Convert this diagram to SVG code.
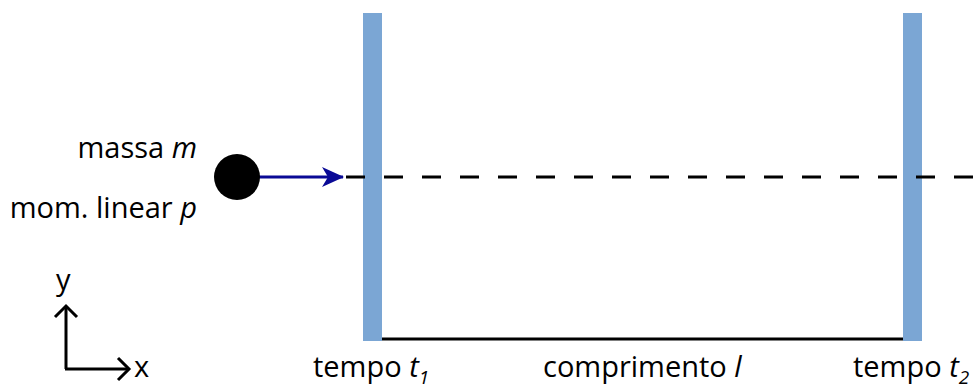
<svg xmlns="http://www.w3.org/2000/svg" width="979" height="387" viewBox="0 0 979 387">
<style>
text{font-family:"Open Sans","Noto Sans","Liberation Sans",sans-serif;font-size:29px;fill:#000}
.i{font-style:italic}
.sub{font-style:italic;font-size:19px}
.bar{fill:#7BA6D4}
</style>
<defs>
<marker id="blue" viewBox="0 0 22 20" refX="21" refY="10" markerWidth="22" markerHeight="20" markerUnits="userSpaceOnUse" orient="auto">
<path d="M0,0 L22,10 L0,20 L6,10 Z" fill="#0A0A96"/>
</marker>
<marker id="open" viewBox="0 0 16 26" refX="13" refY="13" markerWidth="16" markerHeight="26" markerUnits="userSpaceOnUse" orient="auto">
<path d="M2,2 L13,13 L2,24" fill="none" stroke="#000" stroke-width="3"/>
</marker>
</defs>
<g id="barrier1"><rect class="bar" x="363" y="13" width="19" height="328"/></g>
<g id="barrier2"><rect class="bar" x="903" y="13" width="19" height="328"/></g>
<g id="connectors">
<line x1="382" y1="339" x2="903" y2="339" stroke="#000" stroke-width="3"/>
<line x1="346" y1="177" x2="979" y2="177" stroke="#000" stroke-width="3" stroke-dasharray="19,19"/>
<line x1="258" y1="177" x2="343" y2="177" stroke="#0A0A96" stroke-width="3" marker-end="url(#blue)"/>
<line x1="66" y1="369" x2="66" y2="306" stroke="#000" stroke-width="3" marker-end="url(#open)"/>
<line x1="65" y1="369" x2="129" y2="369" stroke="#000" stroke-width="3" marker-end="url(#open)"/>
</g>
<g id="mass"><circle cx="237" cy="177" r="23" fill="#000"/></g>
<g id="labels">
<text x="197" y="158" text-anchor="end">massa <tspan class="i">m</tspan></text>
<text x="197" y="218" text-anchor="end">mom. linear <tspan class="i">p</tspan></text>
<text x="56" y="290" font-size="31">y</text>
<text x="134" y="377" font-size="31">x</text>
<text x="313" y="377">tempo <tspan class="i">t</tspan><tspan class="sub" dy="7">1</tspan></text>
<text x="543" y="377">comprimento <tspan class="i">l</tspan></text>
<text x="853" y="377">tempo <tspan class="i">t</tspan><tspan class="sub" dy="7">2</tspan></text>
</g>
</svg>
